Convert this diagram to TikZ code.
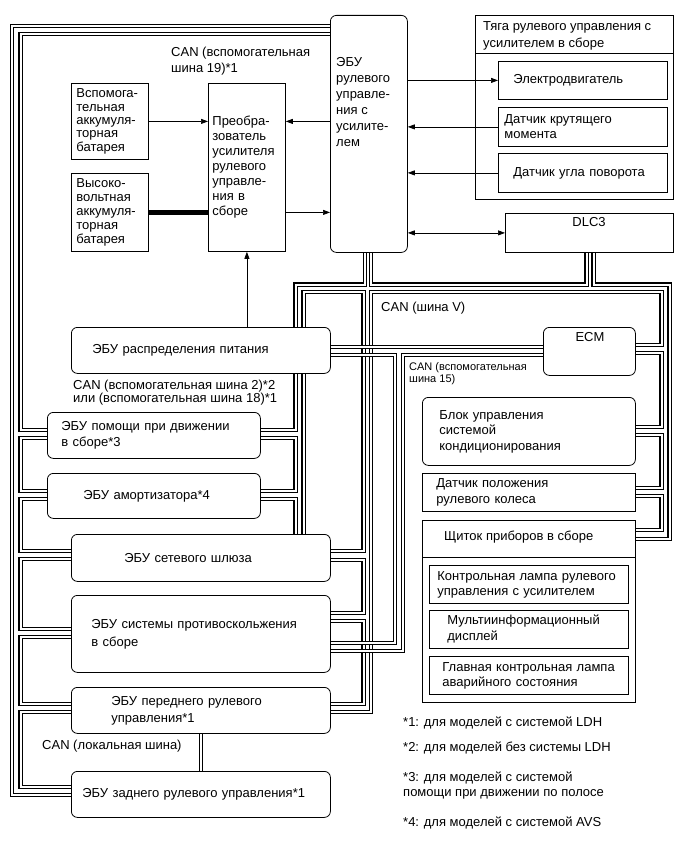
\documentclass[tikz,border=0pt]{standalone}
\usepackage{fontspec}
\setmainfont{Liberation Sans}
\usetikzlibrary{arrows.meta,backgrounds}

\newcommand{\txtsize}[1]{\fontsize{13}{#1}\selectfont}
\tikzset{
  blk/.style={draw, fill=white, line width=0.8pt, anchor=north west, inner ysep=0pt, align=left},
  ecu/.style={blk, rounded corners=6pt},
  bus/.style={draw, line width=1.35pt, double=white, double distance=2pt},
  sig/.style={line width=0.7pt, -{Triangle[length=7pt,width=5pt]}},
  lbl/.style={inner sep=0pt, anchor=west, align=left},
}

\begin{document}
\begin{tikzpicture}[x=1pt, y=-1pt, font=\txtsize{15}]
  \useasboundingbox (0,0) rectangle (689,853);

  % batteries, converter, power steering ECU
  \node[blk, text width=67pt, inner xsep=5pt, minimum height=76pt, font=\txtsize{13.4}] (auxbat) at (71,83) {Вспомога-\\тельная\\аккумуля-\\торная\\батарея};
  \node[blk, text width=67pt, inner xsep=5pt, minimum height=78pt, font=\txtsize{13.8}] (hvbat) at (71,173) {Высоко-\\вольтная\\аккумуля-\\торная\\батарея};
  \node[blk, text width=69pt, inner xsep=4pt, minimum height=168pt] (conv) at (208,83) {Преобра-\\зователь\\усилителя\\рулевого\\управле-\\ния в\\сборе};
  \node[ecu, minimum width=77pt, minimum height=237pt] (psecu) at (330,15) {};
  \node[lbl, font=\txtsize{16}] (psecu-t) at (336,102) {ЭБУ\\рулевого\\управле-\\ния с\\усилите-\\лем};

  % steering gear assembly
  \node[blk, minimum width=198pt, minimum height=184pt] (gear) at (475,15) {};
  \draw[line width=0.8pt] (gear.west |- 0,53) -- (gear.east |- 0,53);
  \node[lbl, font=\txtsize{17}] (gear-t) at (483,36) {Тяга рулевого управления с\\усилителем в сборе};
  \node[blk, text width=139pt, inner xsep=15pt, minimum height=38pt] (motor) at (498,61) {Электродвигатель};
  \node[blk, text width=157pt, inner xsep=6pt, minimum height=39pt] (torque) at (498,107) {Датчик крутящего\\момента};
  \node[blk, text width=139pt, inner xsep=15pt, minimum height=39pt] (angle) at (498,153) {Датчик угла поворота};
  \node[blk, minimum width=168pt, minimum height=39pt] (dlc) at (505,213) {};
  \node (dlc-t) at (589,222) {DLC3};

  % left column of ECUs
  \node[ecu, text width=217pt, inner xsep=21pt, minimum height=46pt] (pd) at (71,327) {ЭБУ распределения питания};
  \node[ecu, text width=185pt, inner xsep=14pt, minimum height=46pt, font=\txtsize{16.7}] (help) at (47,412) {ЭБУ помощи при движении\\в сборе*3};
  \node[ecu, text width=141pt, inner xsep=36pt, minimum height=45pt] (shock) at (47,473) {ЭБУ амортизатора*4};
  \node[ecu, text width=153pt, inner xsep=53pt, minimum height=47pt] (gw) at (71,534) {ЭБУ сетевого шлюза};
  \node[ecu, text width=219pt, inner xsep=20pt, minimum height=77pt, font=\txtsize{18}] (skid) at (71,595) {ЭБУ системы противоскольжения\\в сборе};
  \node[ecu, text width=179pt, inner xsep=40pt, minimum height=46pt, font=\txtsize{17}] (front) at (71,687) {ЭБУ переднего рулевого\\управления*1};
  \node[ecu, text width=237pt, inner xsep=11pt, minimum height=46pt] (rear) at (71,771) {ЭБУ заднего рулевого управления*1};

  % right column
  \node[ecu, minimum width=92pt, minimum height=48pt] (ecm) at (543,327) {};
  \node (ecm-t) at (590,337) {ECM};
  \node[ecu, text width=179pt, inner xsep=17pt, minimum height=68pt, font=\txtsize{15.5}] (ac) at (422,397) {Блок управления\\системой\\кондиционирования};
  \node[blk, text width=185pt, inner xsep=14pt, minimum height=38pt, font=\txtsize{16}] (sws) at (422,473) {Датчик положения\\рулевого колеса};
  \node[blk, minimum width=213pt, minimum height=182pt] (cluster) at (422,520) {};
  \draw[line width=0.8pt] (cluster.west |- 0,557) -- (cluster.east |- 0,557);
  \node[lbl] (cluster-t) at (444,537) {Щиток приборов в сборе};
  \node[blk, text width=183pt, inner xsep=8pt, minimum height=38pt] (lamp) at (429,565) {Контрольная лампа рулевого\\управления с усилителем};
  \node[blk, text width=163pt, inner xsep=18pt, minimum height=38pt, font=\txtsize{16}] (mid) at (429,610) {Мультиинформационный\\дисплей};
  \node[blk, text width=173pt, inner xsep=13pt, minimum height=38pt] (master) at (429,656) {Главная контрольная лампа\\аварийного состояния};

  % bus labels
  \node[lbl, font=\txtsize{16}] (can19) at (171,61) {CAN (вспомогательная\\шина 19)*1};
  \node[lbl, font=\txtsize{12}] (can2) at (73,392.5) {CAN (вспомогательная шина 2)*2\\или (вспомогательная шина 18)*1};
  \node[lbl] (canv) at (381,308) {CAN (шина V)};
  \node[lbl, font=\fontsize{11}{12}\selectfont] (can15) at (409,374) {CAN (вспомогательная\\шина 15)};
  \node[lbl] (canloc) at (42,746) {CAN (локальная шина)};

  % footnotes
  \node[lbl] (fn1) at (403,723) {*1: для моделей с системой LDH};
  \node[lbl] (fn2) at (403,748) {*2: для моделей без системы LDH};
  \node[lbl] (fn3) at (403,786) {*3: для моделей с системой\\помощи при движении по полосе};
  \node[lbl] (fn4) at (403,823) {*4: для моделей с системой AVS};

  % signal lines
  \draw[sig] (auxbat.east) -- (auxbat.east -| conv.west);
  \draw[sig] (psecu.west |- auxbat.east) -- (conv.east |- auxbat.east);
  \draw[line width=4.5pt] (hvbat.east) -- (hvbat.east -| conv.west);
  \draw[sig] (conv.east |- hvbat.east) -- (psecu.west |- hvbat.east);
  \draw[sig] (conv.south |- pd.north) -- (conv.south);
  \draw[sig] (psecu.east |- motor.west) -- (motor.west);
  \draw[sig] (torque.west) -- (torque.west -| psecu.east);
  \draw[sig] (angle.west) -- (angle.west -| psecu.east);
  \draw[sig, {Triangle[length=7pt,width=5pt]}-{Triangle[length=7pt,width=5pt]}] (psecu.east |- dlc.west) -- (dlc.west);

  % CAN buses, behind the boxes
  \begin{scope}[on background layer]
    % left side
    \draw[bus] (psecu.west |- 0,26) -| (12,795) -- (rear.west |- 0,795);
    \draw[bus] (psecu.west |- 0,34) -| (20.5,430) -- (help.west |- 0,430);
    \foreach \src/\ys/\dst/\yd in {help/438/shock/491, shock/499/gw/551, gw/559/skid/629, skid/637/front/704, front/712/rear/787}
      \draw[bus] (\src.west |- 0,\ys) -| (20.5,\yd) -- (\dst.west |- 0,\yd);
    % middle
    \draw[bus] (psecu.south -| 365,0) |- (295.5,284.5) |- (help.east |- 0,430);
    \draw[bus] (help.east |- 0,438) -| (295.5,491) -- (shock.east |- 0,491);
    \draw[bus] (shock.east |- 0,499) -| (gw.north -| 295.5,0);
    \draw[bus] (gw.north -| 303.5,0) |- (363.5,292) |- (gw.east |- 0,551);
    \draw[bus] (gw.east |- 0,560) -| (363.5,613) -- (skid.east |- 0,613);
    \draw[bus] (skid.east |- 0,621) -| (363.5,704) -- (front.east |- 0,704);
    \draw[bus] (front.east |- 0,712) -| (371,292) -| (661.5,345) -- (ecm.east |- 0,345);
    % right side
    \foreach \src/\ys/\dst/\yd in {ecm/353/ac/427, ac/435/sws/488, sws/496/cluster/530}
      \draw[bus] (\src.east |- 0,\ys) -| (661.5,\yd) -- (\dst.east |- 0,\yd);
    \draw[bus] (psecu.south -| 371,0) |- (586.5,284.5) -- (dlc.south -| 586.5,0);
    \draw[bus] (dlc.south -| 593.5,0) |- (669.5,284.5) |- (cluster.east |- 0,539);
    % CAN V and sub bus 15
    \draw[bus] (pd.east |- 0,347) -- (ecm.west |- 0,347);
    \draw[bus] (pd.east |- 0,355) -| (395,643) -- (skid.east |- 0,643);
    \draw[bus] (ecm.west |- 0,355) -| (403,651) -- (skid.east |- 0,651);
    % local bus
    \draw[bus] (front.south) -- (rear.north);
  \end{scope}
\end{tikzpicture}
\end{document}
